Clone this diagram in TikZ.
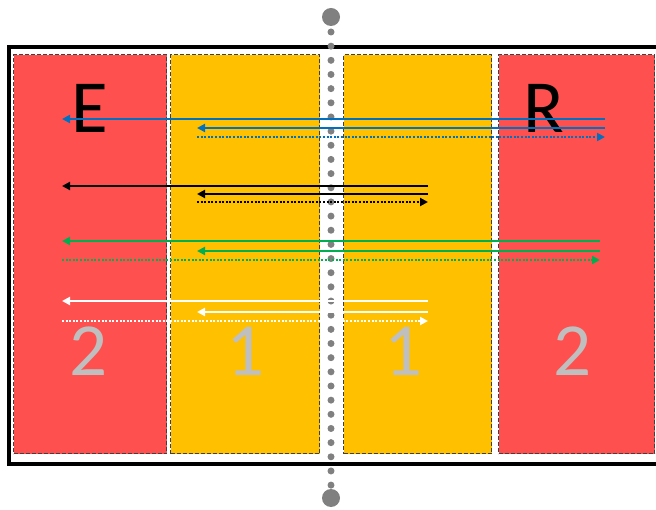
\documentclass[tikz,border=0pt]{standalone}
\usepackage{fontspec}
\setmainfont{Carlito}
\usetikzlibrary{arrows.meta}

\definecolor{zonered}{HTML}{FF5050}
\definecolor{zoneyellow}{HTML}{FFC000}
\definecolor{arrblue}{HTML}{0070C0}
\definecolor{arrgreen}{HTML}{00B050}
\definecolor{digitgray}{HTML}{BFBFBF}
\definecolor{dotgray}{HTML}{808080}

\begin{document}
\begin{tikzpicture}[
    x=1pt, y=-1pt,
    zone/.style={rectangle, inner sep=0pt, anchor=north west, minimum height=399pt,
                 draw=black!75, line width=1.2pt, dash pattern=on 4pt off 2pt},
    zonelabel/.style={anchor=base, inner sep=0pt, font=\fontsize{75}{80}\selectfont},
    flow/.style={line width=2.2pt, -{Triangle[length=8pt,width=8pt]}},
    back/.style={flow, dash pattern=on 2pt off 1.6pt}
]
    \clip (0,0) rectangle (656,510);

    % frame, open to the right
    \draw[line width=4pt] (670,47) -| (9,464) -- (670,464);

    % zones
    \node[zone, fill=zonered,    minimum width=153pt] (zoneL)  at (13,54)  {};
    \node[zone, fill=zoneyellow, minimum width=149pt] (zoneML) at (170,54) {};
    \node[zone, fill=zoneyellow, minimum width=148pt] (zoneMR) at (343,54) {};
    \node[zone, fill=zonered,    minimum width=156pt] (zoneR)  at (498,54) {};

    % centre line
    \draw[dotgray, line width=7pt, line cap=round, dash pattern=on 0pt off 14.16pt] (331,32) -- (331,486);
    \fill[dotgray] (331,17) circle (9pt);
    \fill[dotgray] (331,498) circle (9pt);

    % labels
    \node[zonelabel]                  (lblE)  at (90,133)  {E};
    \node[zonelabel]                  (lblR)  at (544,133) {R};
    \node[zonelabel, text=digitgray]  (lblL)  at (89,376)  {2};
    \node[zonelabel, text=digitgray]  (lblML) at (246,376) {1};
    \node[zonelabel, text=digitgray]  (lblMR) at (404,376) {1};
    \node[zonelabel, text=digitgray]  (lblR2) at (572,376) {2};

    % arrow rows
    \foreach \clr/\ya/\yb/\yc/\xr/\xd [count=\i] in
        {arrblue/119/128/137/605/197, black/186/194/202/428/197,
         arrgreen/241/251/260/600/62, white/301/312/321/428/62} {
        \coordinate (r\i-a) at (\xr,\ya);
        \coordinate (r\i-b) at (62,\ya);
        \coordinate (r\i-c) at (\xr,\yb);
        \coordinate (r\i-d) at (197,\yb);
        \coordinate (r\i-e) at (\xd,\yc);
        \coordinate (r\i-f) at (\xr,\yc);
        \draw[flow, \clr] (r\i-a) -- (r\i-b);
        \draw[flow, \clr] (r\i-c) -- (r\i-d);
        \draw[back, \clr] (r\i-e) -- (r\i-f);
    }
\end{tikzpicture}
\end{document}
